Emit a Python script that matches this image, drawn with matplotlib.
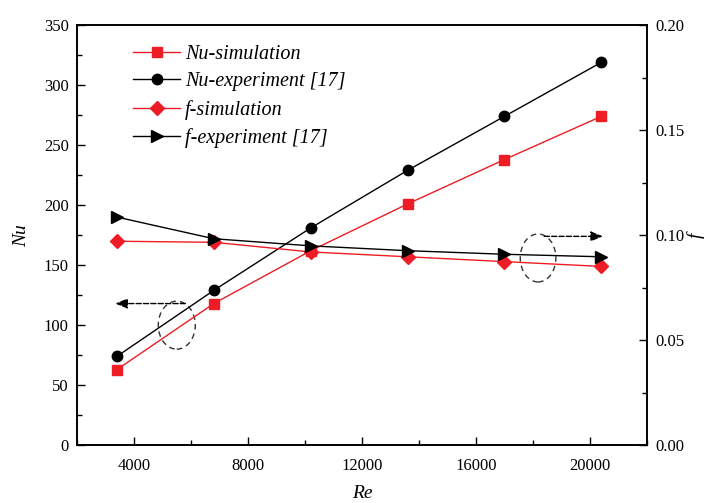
import matplotlib.pyplot as plt
from matplotlib.patches import Ellipse

re_vals = [3400, 6800, 10200, 13600, 17000, 20400]
nu_sim = [63, 118, 162, 201, 238, 274]
nu_exp = [74, 129, 181, 229, 274, 319]
f_sim = [0.0971, 0.0966, 0.0920, 0.0897, 0.0874, 0.0851]
f_exp = [0.1086, 0.0983, 0.0949, 0.0926, 0.0909, 0.0897]

plt.rcParams["font.family"] = ["Liberation Serif", "DejaVu Serif"]
plt.rcParams["font.size"] = 12

fig, ax = plt.subplots(figsize=(7.07, 5.03), dpi=100)
fig.subplots_adjust(left=0.109, right=0.915, top=0.95, bottom=0.115)
ax2 = ax.twinx()

l1, = ax.plot(re_vals, nu_sim, "-s", color="#ee1c24", lw=1, ms=7, label="Nu-simulation")
l2, = ax.plot(re_vals, nu_exp, "-o", color="black", lw=1, ms=7.5, label="Nu-experiment [17]")
l3, = ax2.plot(re_vals, f_sim, "-D", color="#ee1c24", lw=1, ms=7, label="f-simulation")
l4, = ax2.plot(re_vals, f_exp, "->", color="black", lw=1, ms=8, label="f-experiment [17]")

ax.set_xlim(2000, 22000)
ax.set_ylim(0, 350)
ax2.set_ylim(0, 0.2)
ax.set_xticks([4000, 8000, 12000, 16000, 20000])
ax.set_xticks(range(2000, 22001, 2000), minor=True)
ax.set_yticks(range(0, 351, 50))
ax.set_yticks(range(0, 351, 25), minor=True)
ax2.set_yticks([0, 0.05, 0.10, 0.15, 0.20])
ax2.set_yticks([0.025, 0.075, 0.125, 0.175], minor=True)
ax2.set_yticklabels(["0.00", "0.05", "0.10", "0.15", "0.20"])

for a in (ax, ax2):
    a.tick_params(which="major", direction="in", length=6, width=1, pad=6)
    a.tick_params(which="minor", direction="in", length=3.5, width=1)
    for s in a.spines.values():
        s.set_linewidth(1.2)
ax.tick_params(axis="x", pad=9)

ax.set_xlabel("Re", style="italic", fontsize=14, labelpad=8)
ax.set_ylabel("Nu", style="italic", fontsize=14, labelpad=10)
ax2.set_ylabel("f", style="italic", fontsize=14, labelpad=2)

# dashed ellipses with arrows pointing to the relevant axis
ax.add_patch(Ellipse((5500, 100), 1300, 40, fill=False, ls=(0, (4, 3)), color="#333333", lw=1))
ax.annotate("", xy=(3250, 118), xytext=(5900, 118),
            arrowprops=dict(arrowstyle="-|>,head_length=0.6,head_width=0.25", ls="--", color="black", lw=1))
ax.add_patch(Ellipse((18180, 156), 1250, 40, fill=False, ls=(0, (4, 3)), color="#333333", lw=1))
ax.annotate("", xy=(20550, 174), xytext=(18300, 174),
            arrowprops=dict(arrowstyle="-|>,head_length=0.6,head_width=0.25", ls="--", color="black", lw=1))

leg = ax.legend(handles=[l1, l2, l3, l4], loc="upper left", bbox_to_anchor=(0.067, 0.997),
                frameon=False, prop={"style": "italic", "size": 14.5},
                handlelength=2.3, labelspacing=0.42, handletextpad=0.25)

fig.savefig("out.png", dpi=100)
